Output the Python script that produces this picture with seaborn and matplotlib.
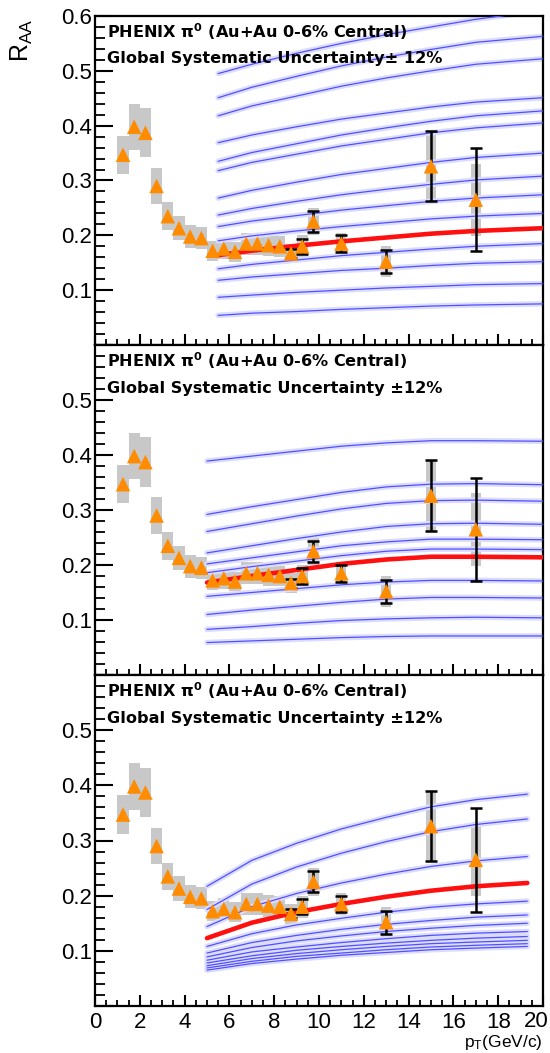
import numpy as np
import pandas as pd
import matplotlib
matplotlib.use("Agg")
import matplotlib.pyplot as plt
import seaborn as sns
from matplotlib.ticker import MultipleLocator, FuncFormatter

sns.set_theme(style="ticks")
plt.rcParams['font.family'] = ['Liberation Sans', 'DejaVu Sans']
plt.rcParams['mathtext.fontset'] = 'custom'
plt.rcParams['mathtext.rm'] = 'Liberation Sans'
plt.rcParams['mathtext.it'] = 'Liberation Sans:italic'
plt.rcParams['mathtext.bf'] = 'DejaVu Sans:bold'
for k in ['text.color', 'axes.labelcolor', 'xtick.color', 'ytick.color',
          'axes.edgecolor']:
    plt.rcParams[k] = 'black'

# ---------------- data (PHENIX pi0 RAA) ----------------
pt = [1.25, 1.75, 2.25, 2.75, 3.25, 3.75, 4.25, 4.75, 5.25, 5.75, 6.25,
      6.75, 7.25, 7.75, 8.25, 8.75, 9.25, 9.75, 11.0, 13.0, 15.0, 17.0]
raa = [0.347, 0.398, 0.387, 0.290, 0.235, 0.213, 0.198, 0.195, 0.172, 0.176,
       0.170, 0.185, 0.185, 0.182, 0.180, 0.167, 0.180, 0.225, 0.185, 0.152,
       0.326, 0.265]
sys_err = [0.035, 0.042, 0.045, 0.033, 0.025, 0.022, 0.021, 0.020, 0.018,
           0.019, 0.018, 0.020, 0.020, 0.020, 0.019, 0.018, 0.020, 0.025,
           0.020, 0.028, 0.064, 0.066]
stat_err = [0.0, 0.0, 0.0, 0.0, 0.0, 0.0, 0.0, 0.0, 0.0,
            0.0, 0.0, 0.0, 0.0, 0.0, 0.0, 0.008, 0.014, 0.019,
            0.015, 0.021, 0.064, 0.094]
box_w = [0.5] * 18 + [0.45] * 4

# ---------------- model curves, panel 1 ----------------
p1_pt = [5.5, 7, 9, 11, 13, 15, 17, 20]
p1_curves = [
    [0.495, 0.512, 0.532, 0.550, 0.566, 0.580, 0.594, 0.610],
    [0.451, 0.470, 0.490, 0.509, 0.525, 0.539, 0.552, 0.563],
    [0.418, 0.436, 0.454, 0.472, 0.487, 0.500, 0.512, 0.522],
    [0.369, 0.383, 0.398, 0.412, 0.423, 0.434, 0.443, 0.451],
    [0.335, 0.351, 0.367, 0.383, 0.396, 0.408, 0.418, 0.427],
    [0.318, 0.333, 0.348, 0.363, 0.375, 0.387, 0.396, 0.405],
    [0.268, 0.282, 0.297, 0.311, 0.322, 0.333, 0.342, 0.350],
    [0.237, 0.249, 0.262, 0.274, 0.284, 0.293, 0.301, 0.308],
    [0.216, 0.226, 0.236, 0.246, 0.254, 0.262, 0.268, 0.274],
    [0.190, 0.199, 0.208, 0.216, 0.223, 0.230, 0.235, 0.240],
    [0.139, 0.147, 0.155, 0.163, 0.169, 0.175, 0.180, 0.185],
    [0.118, 0.124, 0.130, 0.136, 0.140, 0.145, 0.149, 0.152],
    [0.087, 0.091, 0.096, 0.100, 0.104, 0.107, 0.110, 0.112],
    [0.054, 0.058, 0.061, 0.065, 0.068, 0.071, 0.073, 0.075],
]
p1_best = [0.164, 0.172, 0.181, 0.189, 0.196, 0.203, 0.208, 0.213]

# ---------------- model curves, panel 2 ----------------
p2_pt = [5, 7, 9, 11, 13, 15, 17, 20]
p2_curves = [
    [0.389, 0.398, 0.407, 0.416, 0.422, 0.426, 0.426, 0.425],
    [0.292, 0.306, 0.319, 0.332, 0.342, 0.347, 0.348, 0.346],
    [0.261, 0.275, 0.289, 0.302, 0.312, 0.317, 0.318, 0.316],
    [0.222, 0.235, 0.248, 0.260, 0.270, 0.275, 0.276, 0.274],
    [0.202, 0.213, 0.224, 0.235, 0.242, 0.247, 0.247, 0.246],
    [0.186, 0.197, 0.207, 0.217, 0.225, 0.229, 0.229, 0.228],
    [0.143, 0.150, 0.157, 0.164, 0.169, 0.172, 0.172, 0.171],
    [0.110, 0.118, 0.125, 0.132, 0.138, 0.141, 0.141, 0.140],
    [0.083, 0.088, 0.094, 0.099, 0.102, 0.104, 0.105, 0.104],
    [0.059, 0.062, 0.065, 0.068, 0.070, 0.071, 0.071, 0.071],
]
p2_best = [0.168, 0.180, 0.191, 0.202, 0.210, 0.215, 0.215, 0.214]

# ---------------- model curves, panel 3 ----------------
p3_pt = [5, 7, 9, 11, 13, 15, 17, 19.3]
p3_curves = [
    [0.217, 0.264, 0.295, 0.321, 0.342, 0.361, 0.374, 0.384],
    [0.175, 0.221, 0.252, 0.277, 0.298, 0.316, 0.329, 0.339],
    [0.144, 0.180, 0.204, 0.223, 0.239, 0.253, 0.263, 0.271],
    [0.108, 0.131, 0.147, 0.159, 0.170, 0.179, 0.185, 0.190],
    [0.096, 0.115, 0.128, 0.139, 0.148, 0.155, 0.161, 0.165],
    [0.089, 0.106, 0.118, 0.127, 0.135, 0.141, 0.146, 0.150],
    [0.083, 0.098, 0.107, 0.115, 0.122, 0.128, 0.132, 0.135],
    [0.078, 0.091, 0.101, 0.108, 0.114, 0.119, 0.123, 0.126],
    [0.073, 0.086, 0.095, 0.102, 0.108, 0.113, 0.116, 0.119],
    [0.069, 0.081, 0.090, 0.096, 0.102, 0.107, 0.110, 0.113],
    [0.065, 0.077, 0.085, 0.092, 0.097, 0.102, 0.105, 0.108],
]
p3_best = [0.123, 0.151, 0.170, 0.185, 0.198, 0.209, 0.217, 0.223]

title_line = r"PHENIX $\mathbf{\pi^{0}}$ (Au+Au 0-6% Central)"
sys_lines = ["Global Systematic Uncertainty\u00b1 12%",
             "Global Systematic Uncertainty \u00b112%",
             "Global Systematic Uncertainty \u00b112%"]

# ---------------- figure ----------------
W, H = 550, 1053
fig = plt.figure(figsize=(W / 100, H / 100), dpi=100)
fig.patch.set_facecolor('white')
bounds = [(16, 345), (345, 675), (675, 1006)]
models = [(p1_pt, p1_curves, p1_best),
          (p2_pt, p2_curves, p2_best),
          (p3_pt, p3_curves, p3_best)]

df = pd.DataFrame({'pt': pt, 'raa': raa, 'sys': sys_err,
                   'stat': stat_err, 'w': box_w})
df_err = df[df['stat'] > 0]

for i, ((top, bot), (mx, curves, best)) in enumerate(zip(bounds, models)):
    ax = fig.add_axes([95 / W, 1 - bot / H, 448 / W, (bot - top) / H])
    ax.set_facecolor('white')

    # systematic boxes
    ax.bar(df['pt'], 2 * df['sys'], bottom=df['raa'] - df['sys'],
           width=df['w'], color='#c8c8c8', linewidth=0, zorder=1)

    if i == 2:
        ax.fill_between(mx, curves[-1], curves[6], color='#d6d6ff',
                        alpha=0.8, lw=0, zorder=1.5)

    for c in curves:
        sns.lineplot(x=mx, y=c, ax=ax, color='#dcdcff', lw=4,
                     estimator=None, sort=False, zorder=2)
        sns.lineplot(x=mx, y=c, ax=ax, color='#5050ff', lw=0.9,
                     estimator=None, sort=False, zorder=3)
    sns.lineplot(x=mx, y=best, ax=ax, color='#ff1010', lw=3.3,
                 estimator=None, sort=False, zorder=5)

    ax.errorbar(df_err['pt'], df_err['raa'], yerr=df_err['stat'], fmt='none',
                ecolor='black', elinewidth=1.8, capsize=4, capthick=1.8,
                zorder=6)
    sns.scatterplot(data=df, x='pt', y='raa', ax=ax, marker='^', s=110,
                    color='#ff8c00', edgecolor='none', linewidth=0,
                    zorder=7)

    ax.set_xlim(0, 20)
    ax.set_ylim(0, 0.6)
    ax.set_xlabel('')
    ax.set_ylabel('')
    ax.xaxis.set_major_locator(MultipleLocator(2))
    ax.xaxis.set_minor_locator(MultipleLocator(0.5))
    ax.yaxis.set_major_locator(MultipleLocator(0.1))
    ax.yaxis.set_minor_locator(MultipleLocator(0.02))

    show_top = (i == 0)
    ax.yaxis.set_major_formatter(FuncFormatter(
        lambda v, p, st=show_top: '' if v < 0.05 or (v > 0.55 and not st)
        else f'{v:.1f}'))
    ax.xaxis.set_major_formatter(FuncFormatter(
        lambda v, p: '' if v > 19 else f'{v:.0f}'))
    ax.tick_params(axis='y', which='major', direction='in', length=13,
                   width=1.5, labelsize=16, pad=2, right=False, left=True,
                   colors='black')
    ax.tick_params(axis='y', which='minor', direction='in', length=7,
                   width=1.3, right=False, left=True, colors='black')
    ax.tick_params(axis='x', which='major', direction='in', length=8,
                   width=1.5, labelsize=16, pad=4, top=False, bottom=True,
                   labelbottom=(i == 2), colors='black')
    ax.tick_params(axis='x', which='minor', direction='in', length=4,
                   width=1.3, top=False, bottom=True, colors='black')
    for s in ax.spines.values():
        s.set_linewidth(1.6)
        s.set_color('black')

    ax.text(12 / 448, 1 - 16 / 330, title_line, transform=ax.transAxes,
            fontsize=11.6, fontweight='bold', family='DejaVu Sans',
            color='black', va='center', ha='left', zorder=10)
    ax.text(12 / 448, 1 - 43 / 330, sys_lines[i], transform=ax.transAxes,
            fontsize=11.6, fontweight='bold', family='DejaVu Sans',
            color='black', va='center', ha='left', zorder=10)

# last x tick label, nudged inside the canvas
fig.text(536 / W, 1 - 1011 / H, "20", fontsize=16, ha='center', va='top',
         color='black')

fig.text(22 / W, 1 - 18 / H, r"R$_{\mathregular{AA}}$", rotation=90,
         fontsize=18, ha='center', va='top', color='black')
fig.text(543 / W, 1 - 1043 / H, r"p$_{\mathregular{T}}$(GeV/c)",
         fontsize=12.5, ha='right', va='center', color='black')

fig.savefig('out.png', dpi=100, facecolor='white')
